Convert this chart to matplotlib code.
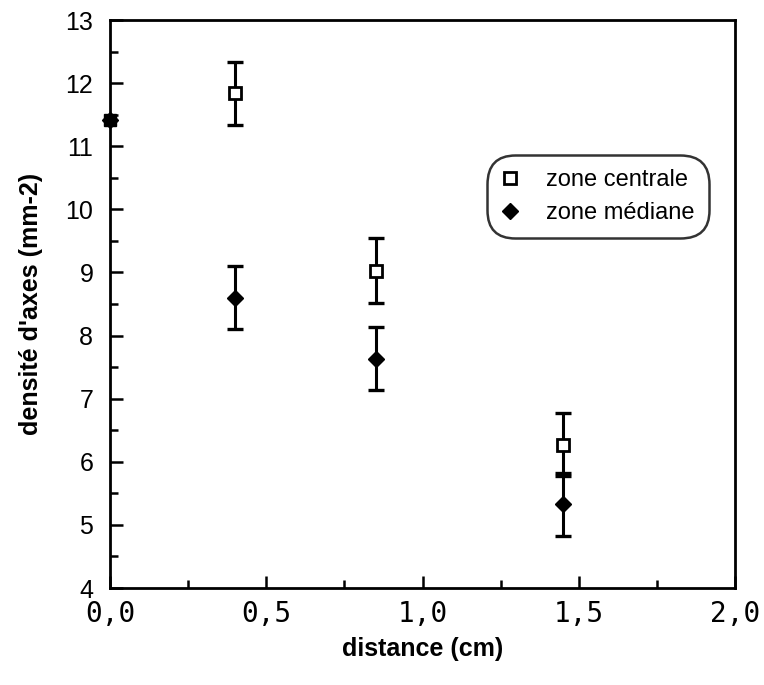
import matplotlib
matplotlib.use("Agg")
import matplotlib.pyplot as plt
from matplotlib.ticker import MultipleLocator, FuncFormatter

plt.rcParams['font.family'] = ['Liberation Sans', 'DejaVu Sans']

distance = [0.0, 0.4, 0.85, 1.45]
centrale = [11.42, 11.84, 9.03, 6.27]
centrale_err = [0.0, 0.5, 0.51, 0.5]
mediane = [11.42, 8.60, 7.63, 5.33]
mediane_err = [0.0, 0.5, 0.5, 0.5]
labels = ["zone centrale", "zone médiane"]

fig = plt.figure(figsize=(7.64, 6.85), dpi=100)
ax = fig.add_axes([110/764, 1-588/685, 625/764, 568/685])

ax.errorbar(distance[1:], centrale[1:], yerr=centrale_err[1:], fmt='none',
            ecolor='black', elinewidth=2.2, capsize=5.5, capthick=2.4, zorder=2)
ax.errorbar(distance[1:], mediane[1:], yerr=mediane_err[1:], fmt='none',
            ecolor='black', elinewidth=2.2, capsize=5.5, capthick=2.4, zorder=2)

h2, = ax.plot(distance, mediane, linestyle='none', marker='D', markersize=8,
              color='black', markerfacecolor='black', clip_on=False, zorder=3,
              label=labels[1])
h1, = ax.plot(distance[1:], centrale[1:], linestyle='none', marker='s', markersize=8.5,
              markeredgecolor='black', markerfacecolor='white', markeredgewidth=2,
              clip_on=False, zorder=4, label=labels[0])
ax.plot(distance[:1], centrale[:1], linestyle='none', marker='s', markersize=9,
        markeredgecolor='black', markerfacecolor='black', clip_on=False, zorder=4)

ax.set_xlim(0, 2.0)
ax.set_ylim(4, 13)
ax.xaxis.set_major_locator(MultipleLocator(0.5))
ax.xaxis.set_minor_locator(MultipleLocator(0.25))
ax.yaxis.set_major_locator(MultipleLocator(1))
ax.yaxis.set_minor_locator(MultipleLocator(0.5))
ax.xaxis.set_major_formatter(FuncFormatter(lambda v, p: f"{v:.1f}".replace('.', ',')))

ax.tick_params(axis='both', which='major', direction='in', length=9, width=1.8,
               top=False, right=False)
ax.tick_params(axis='both', which='minor', direction='in', length=6, width=1.8,
               top=False, right=False)
ax.tick_params(axis='x', which='major', labelsize=20, pad=9)
ax.tick_params(axis='y', which='major', labelsize=18, pad=12)
for lab in ax.get_xticklabels():
    lab.set_family(['DejaVu Sans Mono', 'DejaVu Sans'])
for s in ax.spines.values():
    s.set_linewidth(2)

ax.set_xlabel("distance (cm)", fontsize=18, fontweight='bold', labelpad=6)
ax.set_ylabel("densité d'axes (mm-2)", fontsize=18, fontweight='bold', labelpad=16)

leg = ax.legend(handles=[h1, h2], loc='upper left', bbox_to_anchor=(0.603, 0.762),
                borderaxespad=0.0,
                fontsize=17, frameon=True, fancybox=True, handlelength=0.8,
                handletextpad=1.1, borderpad=0.6, labelspacing=0.45)
frame = leg.get_frame()
frame.set_edgecolor('black')
frame.set_linewidth(1.8)
frame.set_boxstyle('round', pad=0.0, rounding_size=1.2)
for line in leg.get_lines():
    line.set_markersize(8)

fig.savefig("out.png", dpi=100)
